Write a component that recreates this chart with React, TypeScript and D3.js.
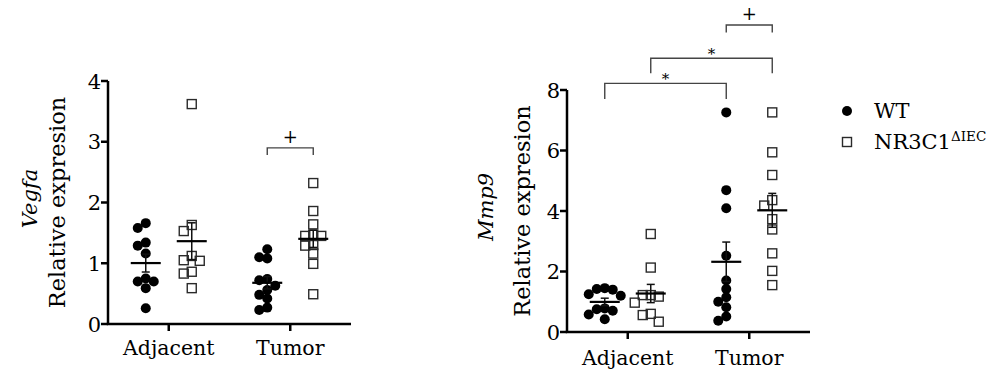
import React from 'react';
import * as d3 from 'd3';

// categories and series
const categories = ['Adjacent', 'Tumor'];
const seriesNames = ['WT', 'NR3C1'];

// Vegfa relative expression
const vegfaWtAdjacent = [1.66, 1.58, 1.34, 1.29, 1.16, 0.75, 0.70, 0.70, 0.59, 0.26];
const vegfaKoAdjacent = [3.62, 1.63, 1.53, 1.12, 1.05, 1.04, 0.86, 0.83, 0.59];
const vegfaWtTumor = [1.23, 1.10, 1.08, 0.74, 0.72, 0.63, 0.56, 0.48, 0.42, 0.27, 0.23];
const vegfaKoTumor = [2.32, 1.86, 1.64, 1.47, 1.45, 1.45, 1.30, 1.29, 1.16, 0.99, 0.49];

// Mmp9 relative expression
const mmp9WtAdjacent = [1.45, 1.42, 1.40, 1.25, 1.20, 0.78, 0.75, 0.70, 0.58, 0.42];
const mmp9KoAdjacent = [3.24, 2.13, 1.22, 1.22, 1.17, 0.97, 0.60, 0.56, 0.34];
const mmp9WtTumor = [7.26, 4.69, 4.09, 2.52, 1.70, 1.42, 1.15, 1.00, 0.82, 0.51, 0.37];
const mmp9KoTumor = [7.26, 5.94, 5.19, 4.36, 4.18, 3.73, 3.39, 2.60, 2.02, 1.55];

const vegfaTicks = [0, 1, 2, 3, 4];
const mmp9Ticks = [0, 2, 4, 6, 8];

// significance brackets: [category, series] pairs, bar level, leg end (data units)
const vegfaBrackets = [
  { from: ['Tumor', 'WT'], to: ['Tumor', 'NR3C1'], level: 2.9, leg: 2.78, label: '+' },
];
const mmp9Brackets = [
  { from: ['Adjacent', 'WT'], to: ['Tumor', 'WT'], level: 8.22, leg: 7.7, label: '*' },
  { from: ['Adjacent', 'NR3C1'], to: ['Tumor', 'NR3C1'], level: 9.05, leg: 8.55, label: '*' },
  { from: ['Tumor', 'WT'], to: ['Tumor', 'NR3C1'], level: 10.15, leg: 9.9, label: '+' },
];

const FONT = 'DejaVu Serif';
const R = 5;

// simple dodge so overlapping points sit side by side (some overlap allowed)
function dodge(ys: number[], gap: number, step: number) {
  const placed: { x: number; y: number }[] = [];
  const order = ys.map((y, i) => i).sort((a, b) => ys[a] - ys[b]);
  const out: number[] = new Array(ys.length).fill(0);
  order.forEach(i => {
    const y = ys[i];
    for (let k = 0; k < 20; k++) {
      const off = k === 0 ? 0 : (k % 2 ? -1 : 1) * Math.ceil(k / 2) * step;
      const ok = placed.every(p => Math.hypot(p.x - off, p.y - y) >= gap);
      if (ok) {
        placed.push({ x: off, y });
        out[i] = off;
        return;
      }
    }
  });
  return out;
}

type PanelProps = {
  gene: string;
  groups: { [key: string]: number[] };
  ticks: number[];
  brackets: typeof mmp9Brackets;
  left: number;
  top: number;
  bottom: number;
  labelX: number;
  geneX: number;
  catY: number;
};

const Panel = ({ gene, groups, ticks, brackets, left, top, bottom, labelX, geneX, catY }: PanelProps) => {
  const right = left + 243;
  const x = d3.scalePoint().domain(categories).range([left, right]).padding(0.5);
  const y = d3.scaleLinear().domain([0, d3.max(ticks)!]).range([bottom, top]);
  const off = 23;
  const cx = (cat: string, s: string) => x(cat)! + (s === 'WT' ? -off : off);
  const midY = (top + bottom) / 2;

  return (
    <g>
      {/* axes */}
      <line x1={left} x2={left} y1={top} y2={bottom} stroke="#000" strokeWidth={2.5} />
      <line x1={left - 1.25} x2={right} y1={bottom} y2={bottom} stroke="#000" strokeWidth={2.5} />
      {ticks.map(t => (
        <g key={t}>
          <line x1={left - 7} x2={left} y1={y(t)} y2={y(t)} stroke="#000" strokeWidth={2.5} />
          <text x={left - 7} y={y(t)} dy="0.36em" textAnchor="end" fontFamily={FONT} fontSize={21}>{t}</text>
        </g>
      ))}
      {categories.map(c => (
        <g key={c}>
          <line x1={x(c)} x2={x(c)} y1={bottom} y2={bottom + 7} stroke="#000" strokeWidth={2.5} />
          <text x={x(c)} y={catY} textAnchor="middle" fontFamily={FONT} fontSize={20.5}>{c}</text>
        </g>
      ))}
      <text transform={`translate(${geneX},${midY - 4}) rotate(-90)`} textAnchor="middle"
        fontFamily={FONT} fontStyle="italic" fontSize={21}>{gene}</text>
      <text transform={`translate(${labelX},${midY}) rotate(-90)`} textAnchor="middle"
        fontFamily={FONT} fontSize={22.5}>Relative expresion</text>

      {/* points, mean and SEM */}
      {categories.map(c => seriesNames.map(s => {
        const vals = groups[`${c}-${s}`];
        const ys = vals.map(v => y(v));
        const dx = dodge(ys, 8, 8);
        const m = d3.mean(vals)!;
        const sem = d3.deviation(vals)! / Math.sqrt(vals.length);
        const X = cx(c, s);
        return (
          <g key={c + s}>
            {vals.map((v, i) => s === 'WT'
              ? <circle key={i} cx={X + dx[i]} cy={y(v)} r={R} fill="#000" />
              : <rect key={i} x={X + dx[i] - 4.5} y={y(v) - 4.5} width={9} height={9}
                  fill="none" stroke="#2a2a2a" strokeWidth={1.4} />)}
            <line x1={X} x2={X} y1={y(m + sem)} y2={y(m - sem)} stroke="#111" strokeWidth={1.5} />
            <line x1={X - 4} x2={X + 4} y1={y(m + sem)} y2={y(m + sem)} stroke="#111" strokeWidth={1.5} />
            <line x1={X - 4} x2={X + 4} y1={y(m - sem)} y2={y(m - sem)} stroke="#111" strokeWidth={1.5} />
            <line x1={X - 15} x2={X + 15} y1={y(m)} y2={y(m)} stroke="#000" strokeWidth={2.2} />
          </g>
        );
      }))}

      {/* brackets */}
      {brackets.map((b, i) => {
        const x1 = cx(b.from[0], b.from[1]);
        const x2 = cx(b.to[0], b.to[1]);
        const yl = y(b.level);
        const yg = y(b.leg);
        return (
          <g key={i}>
            <path d={`M${x1},${yg}V${yl}H${x2}V${yg}`} fill="none" stroke="#444" strokeWidth={1.4} />
            {b.label === '+'
              ? <text x={(x1 + x2) / 2} y={yl - 5} textAnchor="middle" fontFamily={FONT} fontSize={18}>+</text>
              : <text x={(x1 + x2) / 2} y={yl + 1} textAnchor="middle" fontFamily={FONT} fontSize={15}>*</text>}
          </g>
        );
      })}
    </g>
  );
};

export default function App() {
  return (
    <svg width={992} height={372} style={{ position: 'absolute', left: 0, top: 0, background: '#fff' }}>
      <Panel gene="Vegfa"
        groups={{
          'Adjacent-WT': vegfaWtAdjacent, 'Adjacent-NR3C1': vegfaKoAdjacent,
          'Tumor-WT': vegfaWtTumor, 'Tumor-NR3C1': vegfaKoTumor,
        }}
        ticks={vegfaTicks} brackets={vegfaBrackets}
        left={108} top={81} bottom={324} labelX={65} geneX={37} catY={355} />
      <Panel gene="Mmp9"
        groups={{
          'Adjacent-WT': mmp9WtAdjacent, 'Adjacent-NR3C1': mmp9KoAdjacent,
          'Tumor-WT': mmp9WtTumor, 'Tumor-NR3C1': mmp9KoTumor,
        }}
        ticks={mmp9Ticks} brackets={mmp9Brackets}
        left={567} top={90} bottom={332} labelX={530} geneX={493} catY={365} />

      {/* legend */}
      <circle cx={847} cy={111} r={5} fill="#000" />
      <text x={874} y={118} fontFamily={FONT} fontSize={21}>WT</text>
      <rect x={842.5} y={137.5} width={9} height={9} fill="#fff" stroke="#2a2a2a" strokeWidth={1.4} />
      <text x={874} y={149} fontFamily={FONT} fontSize={21}>
        NR3C1<tspan fontSize={13.5} dy={-8}>ΔIEC</tspan>
      </text>
    </svg>
  );
}
